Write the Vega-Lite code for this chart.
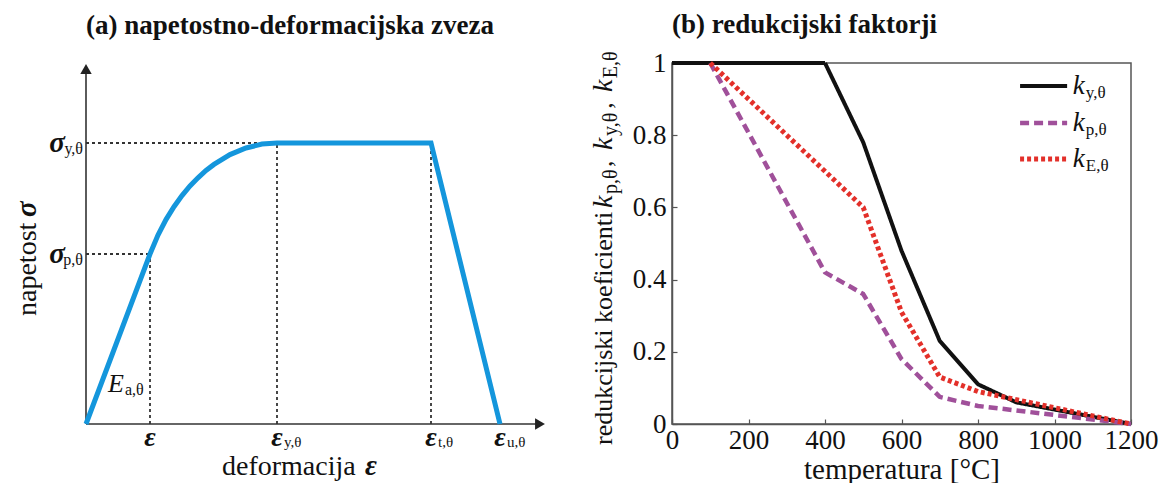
{
  "$schema": "https://vega.github.io/schema/vega-lite/v6.json",
  "autosize": {"type": "none"},
  "padding": {"left": 86, "top": 63, "right": 1082, "bottom": 420},
  "background": "#ffffff",
  "bounds": "flush",
  "spacing": 126,
  "config": {"font": "Liberation Serif", "view": {"stroke": null}},
  "datasets": {
    "curveA": [
      {"strain": 0, "stress": 0},
      {"strain": 64, "stress": 170},
      {"strain": 72, "stress": 188.9},
      {"strain": 80, "stress": 204.4},
      {"strain": 88, "stress": 217.3},
      {"strain": 96, "stress": 228.4},
      {"strain": 104, "stress": 238.0},
      {"strain": 112, "stress": 246.2},
      {"strain": 120, "stress": 253.5},
      {"strain": 128, "stress": 259.6},
      {"strain": 144, "stress": 269.4},
      {"strain": 160, "stress": 276.0},
      {"strain": 176, "stress": 279.9},
      {"strain": 191, "stress": 281},
      {"strain": 345, "stress": 281},
      {"strain": 414, "stress": 0}
    ],
    "guidesA": [
      {"strain": 0, "stress": 281, "strain2": 191, "stress2": 281},
      {"strain": 0, "stress": 170, "strain2": 64, "stress2": 170},
      {"strain": 64, "stress": 0, "strain2": 64, "stress2": 170},
      {"strain": 191, "stress": 0, "strain2": 191, "stress2": 281},
      {"strain": 345, "stress": 0, "strain2": 345, "stress2": 281}
    ],
    "axesA": [
      {"axis": "stress", "strain": 0, "stress": 0, "strain2": 0, "stress2": 352},
      {"axis": "strain", "strain": 0, "stress": 0, "strain2": 452, "stress2": 0}
    ],
    "arrowsA": [
      {"axis": "stress", "strain": 0, "stress": 355},
      {"axis": "strain", "strain": 454, "stress": 0}
    ],
    "ticksA": [
      {"strain": 64, "stress": 0, "sym": "ε", "sub": ""},
      {"strain": 191, "stress": 0, "sym": "ε", "sub": "y,θ"},
      {"strain": 345, "stress": 0, "sym": "ε", "sub": "t,θ"},
      {"strain": 414, "stress": 0, "sym": "ε", "sub": "u,θ"}
    ],
    "sigmaA": [
      {"strain": 0, "stress": 281, "sub": "y,θ"},
      {"strain": 0, "stress": 170, "sub": "p,θ"}
    ],
    "modA": [
      {"strain": 22, "stress": 40, "sym": "E", "sub": "a,θ"}
    ],
    "ytitleA": [
      {"strain": -50, "stress": 108, "txt": "napetost", "st": "r"},
      {"strain": -50, "stress": 207, "txt": "σ", "st": "i"}
    ],
    "xtitleA": [
      {"strain": 136, "stress": -51, "txt": "deformacija", "st": "r"},
      {"strain": 279, "stress": -51, "txt": "ε", "st": "i"}
    ],
    "factors": [
      {"series": "ky", "T": 0, "k": 1},
      {"series": "ky", "T": 100, "k": 1},
      {"series": "ky", "T": 200, "k": 1},
      {"series": "ky", "T": 300, "k": 1},
      {"series": "ky", "T": 400, "k": 1},
      {"series": "ky", "T": 500, "k": 0.78},
      {"series": "ky", "T": 600, "k": 0.48},
      {"series": "ky", "T": 700, "k": 0.23},
      {"series": "ky", "T": 800, "k": 0.11},
      {"series": "ky", "T": 900, "k": 0.06},
      {"series": "ky", "T": 1000, "k": 0.04},
      {"series": "ky", "T": 1100, "k": 0.02},
      {"series": "ky", "T": 1200, "k": 0},
      {"series": "kp", "T": 100, "k": 1},
      {"series": "kp", "T": 200, "k": 0.807},
      {"series": "kp", "T": 300, "k": 0.613},
      {"series": "kp", "T": 400, "k": 0.42},
      {"series": "kp", "T": 500, "k": 0.36},
      {"series": "kp", "T": 600, "k": 0.18},
      {"series": "kp", "T": 700, "k": 0.075},
      {"series": "kp", "T": 800, "k": 0.05},
      {"series": "kp", "T": 900, "k": 0.0375},
      {"series": "kp", "T": 1000, "k": 0.025},
      {"series": "kp", "T": 1100, "k": 0.0125},
      {"series": "kp", "T": 1200, "k": 0},
      {"series": "kE", "T": 100, "k": 1},
      {"series": "kE", "T": 200, "k": 0.9},
      {"series": "kE", "T": 300, "k": 0.8},
      {"series": "kE", "T": 400, "k": 0.7},
      {"series": "kE", "T": 500, "k": 0.6},
      {"series": "kE", "T": 600, "k": 0.31},
      {"series": "kE", "T": 700, "k": 0.13},
      {"series": "kE", "T": 800, "k": 0.09},
      {"series": "kE", "T": 900, "k": 0.0675},
      {"series": "kE", "T": 1000, "k": 0.045},
      {"series": "kE", "T": 1100, "k": 0.0225},
      {"series": "kE", "T": 1200, "k": 0}
    ],
    "legendB": [
      {"series": "ky", "T": 910, "T2": 1033, "k": 0.936},
      {"series": "kp", "T": 910, "T2": 1033, "k": 0.834},
      {"series": "kE", "T": 910, "T2": 1033, "k": 0.734}
    ],
    "legendLabelsB": [
      {"series": "ky", "T": 1048, "k": 0.936, "sub": "y,θ"},
      {"series": "kp", "T": 1048, "k": 0.834, "sub": "p,θ"},
      {"series": "kE", "T": 1048, "k": 0.734, "sub": "E,θ"}
    ],
    "ytitleB": [
      {"t": "redukcijski koeficienti", "st": "r", "T": -157, "k": -0.058},
      {"t": "k", "st": "i", "T": -157, "k": 0.598},
      {"t": "p,θ", "st": "s", "T": -157, "k": 0.637},
      {"t": ",", "st": "r", "T": -157, "k": 0.712},
      {"t": "k", "st": "i", "T": -157, "k": 0.759},
      {"t": "y,θ", "st": "s", "T": -157, "k": 0.798},
      {"t": ",", "st": "r", "T": -157, "k": 0.873},
      {"t": "k", "st": "i", "T": -157, "k": 0.920},
      {"t": "E,θ", "st": "s", "T": -157, "k": 0.958}
    ]
  },
  "hconcat": [
    {
      "width": 460,
      "height": 361,
      "view": {"stroke": null},
      "title": {"text": "(a) napetostno-deformacijska zveza", "anchor": "start", "frame": "group", "font": "Liberation Serif", "fontSize": 27, "fontWeight": "bold", "color": "#111111", "baseline": "alphabetic", "offset": 2},
      "encoding": {
        "x": {"field": "strain", "type": "quantitative", "scale": {"domain": [0, 460], "nice": false, "zero": false}, "axis": null},
        "y": {"field": "stress", "type": "quantitative", "scale": {"domain": [0, 361], "nice": false, "zero": false}, "axis": null}
      },
      "layer": [
        {"data": {"name": "guidesA"}, "mark": {"type": "rule", "color": "#333333", "strokeWidth": 1.8, "strokeDash": [3, 3]}, "encoding": {"x2": {"field": "strain2"}, "y2": {"field": "stress2"}}},
        {"data": {"name": "axesA"}, "mark": {"type": "rule", "color": "#333333", "strokeWidth": 1.6}, "encoding": {"x2": {"field": "strain2"}, "y2": {"field": "stress2"}}},
        {"data": {"name": "arrowsA"}, "mark": {"type": "point", "filled": true, "color": "#222222", "opacity": 1, "size": 130},
         "encoding": {"shape": {"field": "axis", "type": "nominal", "scale": {"domain": ["stress", "strain"], "range": ["triangle-up", "triangle-right"]}, "legend": null}}},
        {"data": {"name": "curveA"}, "mark": {"type": "line", "color": "#1496dc", "strokeWidth": 5}},
        {"data": {"name": "ticksA"}, "mark": {"type": "text", "align": "center", "baseline": "middle", "dy": 14, "fontSize": 28, "fontStyle": "italic", "fontWeight": "bold", "color": "#111111"},
         "encoding": {"text": {"field": "sym"}}},
        {"data": {"name": "ticksA"}, "mark": {"type": "text", "align": "left", "baseline": "middle", "dx": 7, "dy": 18, "fontSize": 15, "color": "#111111"},
         "encoding": {"text": {"field": "sub"}}},
        {"data": {"name": "sigmaA"}, "mark": {"type": "text", "align": "right", "baseline": "middle", "dx": -21, "fontSize": 29, "fontStyle": "italic", "fontWeight": "bold", "color": "#111111"},
         "encoding": {"text": {"value": "σ"}}},
        {"data": {"name": "sigmaA"}, "mark": {"type": "text", "align": "right", "baseline": "middle", "dx": -3, "dy": 6, "fontSize": 16, "color": "#111111"},
         "encoding": {"text": {"field": "sub"}}},
        {"data": {"name": "modA"}, "mark": {"type": "text", "align": "left", "baseline": "middle", "fontSize": 26, "fontStyle": "italic", "color": "#111111"},
         "encoding": {"text": {"field": "sym"}}},
        {"data": {"name": "modA"}, "mark": {"type": "text", "align": "left", "baseline": "middle", "dx": 17, "dy": 6, "fontSize": 16, "color": "#111111"},
         "encoding": {"text": {"field": "sub"}}},
        {"data": {"name": "ytitleA"}, "transform": [{"filter": "datum.st == 'r'"}], "mark": {"type": "text", "align": "left", "baseline": "alphabetic", "angle": 270, "fontSize": 28, "color": "#111111"},
         "encoding": {"text": {"field": "txt"}}},
        {"data": {"name": "ytitleA"}, "transform": [{"filter": "datum.st == 'i'"}], "mark": {"type": "text", "align": "left", "baseline": "alphabetic", "angle": 270, "fontSize": 29, "fontStyle": "italic", "fontWeight": "bold", "color": "#111111"},
         "encoding": {"text": {"field": "txt"}}},
        {"data": {"name": "xtitleA"}, "transform": [{"filter": "datum.st == 'r'"}], "mark": {"type": "text", "align": "left", "baseline": "alphabetic", "fontSize": 28, "color": "#111111"},
         "encoding": {"text": {"field": "txt"}}},
        {"data": {"name": "xtitleA"}, "transform": [{"filter": "datum.st == 'i'"}], "mark": {"type": "text", "align": "left", "baseline": "alphabetic", "fontSize": 29, "fontStyle": "italic", "fontWeight": "bold", "color": "#111111"},
         "encoding": {"text": {"field": "txt"}}}
      ]
    },
    {
      "width": 459,
      "height": 361,
      "view": {"stroke": "#555555", "strokeWidth": 1.5},
      "title": {"text": "(b) redukcijski faktorji", "anchor": "start", "frame": "group", "font": "Liberation Serif", "fontSize": 27, "fontWeight": "bold", "color": "#111111", "baseline": "alphabetic", "offset": -11},
      "encoding": {
        "x": {"field": "T", "type": "quantitative", "scale": {"domain": [0, 1200], "nice": false, "zero": false},
              "axis": {"values": [0, 200, 400, 600, 800, 1000, 1200], "format": "d", "title": "temperatura [°C]", "grid": false,
                       "labelFont": "Liberation Serif", "labelFontSize": 27, "labelColor": "#111111", "labelPadding": 8, "labelFlush": false, "labelOverlap": false,
                       "tickSize": -5, "tickColor": "#555555", "tickWidth": 1.2, "domainColor": "#555555", "domainWidth": 1.5,
                       "titleFont": "Liberation Serif", "titleFontSize": 29, "titleFontWeight": "normal", "titleColor": "#111111", "titlePadding": 2}},
        "y": {"field": "k", "type": "quantitative", "scale": {"domain": [0, 1], "nice": false, "zero": false},
              "axis": {"values": [0, 0.2, 0.4, 0.6, 0.8, 1], "labelExpr": "format(datum.value, '~g')", "title": null, "grid": false,
                       "labelFont": "Liberation Serif", "labelFontSize": 27, "labelColor": "#111111", "labelPadding": 11, "labelFlush": false, "labelOverlap": false,
                       "tickSize": -5, "tickColor": "#555555", "tickWidth": 1.2, "domainColor": "#555555", "domainWidth": 1.5}}
      },
      "layer": [
        {"data": {"name": "factors"}, "mark": {"type": "line", "strokeJoin": "round"},
         "encoding": {
           "color": {"field": "series", "type": "nominal", "scale": {"domain": ["ky", "kp", "kE"], "range": ["#111111", "#a0509a", "#e3302a"]}, "legend": null},
           "strokeDash": {"field": "series", "type": "nominal", "scale": {"domain": ["ky", "kp", "kE"], "range": [[1, 0], [9, 5], [4, 3]]}, "legend": null},
           "strokeWidth": {"field": "series", "type": "ordinal", "scale": {"domain": ["ky", "kp", "kE"], "range": [4, 5, 4]}, "legend": null}
         }},
        {"data": {"name": "legendB"}, "mark": {"type": "rule"},
         "encoding": {
           "x2": {"field": "T2"},
           "color": {"field": "series", "type": "nominal", "scale": {"domain": ["ky", "kp", "kE"], "range": ["#111111", "#a0509a", "#e3302a"]}, "legend": null},
           "strokeDash": {"field": "series", "type": "nominal", "scale": {"domain": ["ky", "kp", "kE"], "range": [[1, 0], [9, 5], [4, 3]]}, "legend": null},
           "strokeWidth": {"field": "series", "type": "ordinal", "scale": {"domain": ["ky", "kp", "kE"], "range": [4, 5, 4]}, "legend": null}
         }},
        {"data": {"name": "legendLabelsB"}, "mark": {"type": "text", "align": "left", "baseline": "middle", "fontSize": 27, "fontStyle": "italic", "color": "#111111"},
         "encoding": {"text": {"value": "k"}}},
        {"data": {"name": "legendLabelsB"}, "mark": {"type": "text", "align": "left", "baseline": "middle", "dx": 13, "dy": 7, "fontSize": 17, "color": "#111111"},
         "encoding": {"text": {"field": "sub"}}},
        {"data": {"name": "ytitleB"}, "transform": [{"filter": "datum.st == 'r'"}], "mark": {"type": "text", "align": "left", "baseline": "alphabetic", "angle": 270, "fontSize": 26, "color": "#111111"},
         "encoding": {"text": {"field": "t"}}},
        {"data": {"name": "ytitleB"}, "transform": [{"filter": "datum.st == 'i'"}], "mark": {"type": "text", "align": "left", "baseline": "alphabetic", "angle": 270, "fontSize": 28, "fontStyle": "italic", "color": "#111111"},
         "encoding": {"text": {"field": "t"}}},
        {"data": {"name": "ytitleB"}, "transform": [{"filter": "datum.st == 's'"}], "mark": {"type": "text", "align": "left", "baseline": "alphabetic", "angle": 270, "dy": 5, "fontSize": 20, "color": "#111111"},
         "encoding": {"text": {"field": "t"}}}
      ]
    }
  ]
}
